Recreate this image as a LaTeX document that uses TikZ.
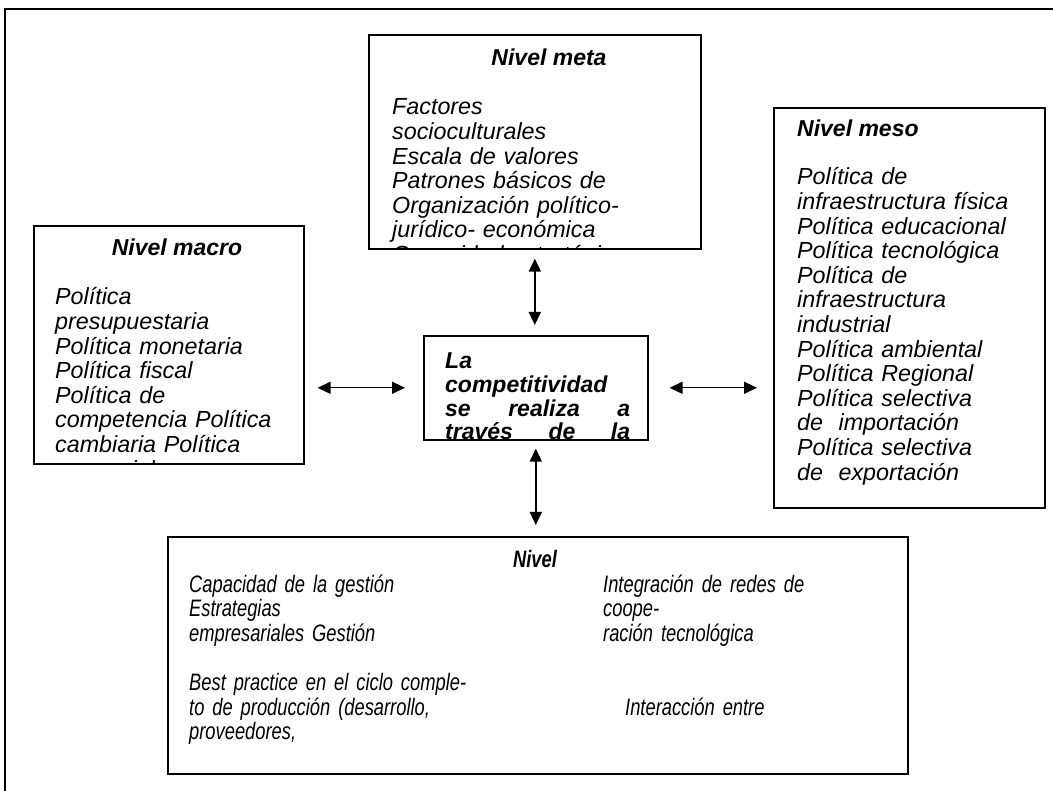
\documentclass[tikz,border=0pt]{standalone}
\usepackage{fontspec}
\setmainfont{Liberation Sans}
\newfontfamily\narrowfont[FakeStretch=0.77]{Liberation Sans}
\usetikzlibrary{arrows.meta}
\begin{document}
\begin{tikzpicture}[x=1pt,y=-1pt,
  box/.style={draw,line width=1.6pt,inner sep=0pt,anchor=north west},
  txt/.style={inner sep=0pt,anchor=base west,align=left,text width=#1,font=\fontsize{23.3}{24.6}\selectfont\itshape},
  ctxt/.style={inner sep=0pt,anchor=base west,align=left,text width=#1,font=\fontsize{23}{23.6}\selectfont\bfseries\itshape},
  ntxt/.style={inner sep=0pt,anchor=base west,align=left,text width=#1,font=\narrowfont\fontsize{23.8}{24.6}\selectfont\itshape},
  hdr/.style={inner sep=0pt,anchor=base,font=\fontsize{23}{24.6}\selectfont\bfseries\itshape},
  hdrw/.style={inner sep=0pt,anchor=base west,font=\fontsize{23}{24.6}\selectfont\bfseries\itshape},
  nhdr/.style={inner sep=0pt,anchor=base,font=\narrowfont\fontsize{23.8}{24.6}\selectfont\bfseries\itshape},
  link/.style={line width=1.4pt,{Triangle[length=13pt,width=12pt]}-{Triangle[length=13pt,width=12pt]}}]
\useasboundingbox (0,0) rectangle (1053,791);
% outer frame
\draw[line width=2.2pt] (5,800) -- (5,9) -- (1060,9);
% boxes
\node[box,minimum width=332pt,minimum height=214pt] (meta) at (368,34) {};
\node[box,minimum width=270pt,minimum height=238pt] (macro) at (33,225) {};
\node[box,minimum width=271pt,minimum height=400pt] (meso) at (773,107) {};
\node[box,minimum width=224pt,minimum height=104pt] (center) at (423,335) {};
\node[box,minimum width=740pt,minimum height=237pt] (bottom) at (167,536) {};
% meta
\node[hdr] (metahdr) at (549,66) {Nivel meta};
\begin{scope}
\clip (meta.south west) rectangle (meta.north east);
\node[txt=300pt] (metatxt) at (392,115) {Factores\\socioculturales\\Escala de valores\\Patrones básicos de\\Organización político-\\jurídico- económica\\Capacidad estratégica y política};
\end{scope}
% macro
\node[hdr] (macrohdr) at (177,256) {Nivel macro};
\begin{scope}
\clip (macro.south west) rectangle (macro.north east);
\node[txt=240pt] (macrotxt) at (55,305) {Política\\presupuestaria\\Política monetaria\\Política fiscal\\Política de\\competencia Política\\cambiaria Política\\comercial};
\end{scope}
% meso
\node[hdrw] (mesohdr) at (797,137) {Nivel meso};
\node[txt=240pt] (mesotxt) at (797,185) {Política de\\infraestructura física\\Política educacional\\Política tecnológica\\Política de\\infraestructura\\industrial\\Política ambiental\\Política Regional\\Política selectiva\\de\ \ importación\\Política selectiva\\de\ \ exportación};
% center
\begin{scope}
\clip (center.south west) rectangle (center.north east);
\node[ctxt=185pt] (centertxt) at (445,369) {La\\competitividad\\se\hfill realiza\hfill a\\través\hfill de\hfill la};
\end{scope}
% bottom
\node[nhdr] (bothdr) at (535,567) {Nivel};
\node[ntxt=330pt] (botleft) at (189,592) {Capacidad de la gestión\\Estrategias\\empresariales Gestión\\~\\Best practice en el ciclo comple-\\to de producción (desarrollo,\\proveedores,};
\node[ntxt=280pt] (botright) at (603,592) {Integración de redes de\\coope-\\ración tecnológica};
\node[ntxt=200pt] (botinter) at (625,715) {Interacción entre};
% connectors
\draw[link] ([yshift=-9pt]meta.south) -- ([yshift=10pt]center.north -| meta.south);
\draw[link] ([xshift=13pt]macro.east |- center.west) -- ([xshift=-18pt]center.west);
\draw[link] ([xshift=21pt]center.east) -- ([xshift=-16pt]meso.west |- center.east);
\draw[link] ([yshift=-8pt]center.south) -- ([yshift=11pt]bottom.north -| center.south);
\end{tikzpicture}
\end{document}
